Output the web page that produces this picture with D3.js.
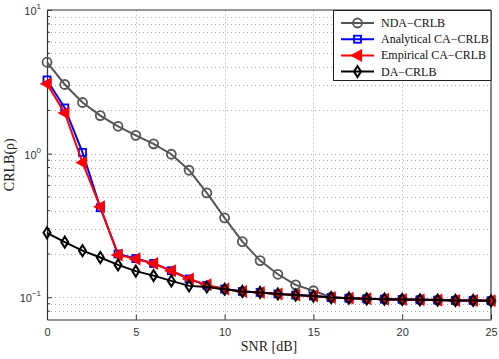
<!DOCTYPE html>
<html><head><meta charset="utf-8">
<script src="https://cdn.jsdelivr.net/npm/d3@7/dist/d3.min.js"></script>
<style>body{margin:0;background:#fff}svg{display:block}</style>
</head><body>
<script>
const snr = d3.range(0, 26);
const ndaCRLB = [4.33,3.03,2.27,1.84,1.55,1.34,1.17,0.99,0.766,0.533,0.357,0.244,0.18,0.1445,0.122,0.111,0.1,0.0985,0.0975,0.097,0.0965,0.096,0.0955,0.095,0.095,0.0945];
const analyticalCA = [3.26,2.08,1.02,0.42,0.2,0.186,0.172,0.153,0.134,0.121,0.114,0.1097,0.108,0.1055,0.1036,0.102,0.0995,0.0985,0.0975,0.097,0.0965,0.096,0.0955,0.095,0.095,0.0945];
const empiricalCA = [3.06,1.92,0.866,0.426,0.197,0.185,0.172,0.153,0.134,0.122,0.114,0.1097,0.108,0.1055,0.1036,0.102,0.0995,0.0985,0.0975,0.097,0.0965,0.096,0.0955,0.095,0.095,0.0945];
const daCRLB = [0.281,0.242,0.211,0.189,0.168,0.152,0.1415,0.13,0.12,0.118,0.1137,0.1097,0.108,0.1055,0.1036,0.102,0.0995,0.0985,0.0975,0.097,0.0965,0.096,0.0955,0.095,0.095,0.0945];
const seriesNames = ["NDA\u2212CRLB","Analytical CA\u2212CRLB","Empirical CA\u2212CRLB","DA\u2212CRLB"];
const xTicks = [0,5,10,15,20,25];
const yTicks = [0.1,1,10];
const yExps = ["\u22121","0","1"];

const W=499,H=359;
const m={l:47,r:8,t:10,b:40};
const svg=d3.select("body").append("svg").attr("width",W).attr("height",H);
const x=d3.scaleLinear().domain([0,25]).range([m.l,W-m.r]);
const y=d3.scaleLog().domain([0.07,10]).range([H-m.b+0.5,m.t]);

// grid
const g=svg.append("g");
const minor=[];
for(let e=-2;e<=0;e++) for(let k=1;k<=9;k++){const v=k*Math.pow(10,e); if(v>0.07&&v<10) minor.push(v);}
g.selectAll("line.gy").data(minor).enter().append("line")
 .attr("x1",x(0)).attr("x2",x(25)).attr("y1",d=>Math.round(y(d))+0.5).attr("y2",d=>Math.round(y(d))+0.5)
 .attr("stroke","#aaa").attr("stroke-width",1).attr("stroke-dasharray","1,3");
g.selectAll("line.gx").data(xTicks.slice(1,-1)).enter().append("line")
 .attr("y1",y(0.07)).attr("y2",y(10)).attr("x1",d=>Math.round(x(d))+0.5).attr("x2",d=>Math.round(x(d))+0.5)
 .attr("stroke","#aaa").attr("stroke-width",1).attr("stroke-dasharray","1,3");

// axes
const ax=svg.append("g").attr("transform",`translate(0,${y(0.07)})`).call(d3.axisBottom(x).tickValues(xTicks).tickSizeInner(-5).tickSizeOuter(0).tickPadding(9));
const ay=svg.append("g").attr("transform",`translate(${m.l},0)`).call(d3.axisLeft(y).tickValues(yTicks).tickSizeInner(-5).tickSizeOuter(0).tickFormat(()=>"").tickPadding(6));
[ax,ay].forEach(a=>{a.select(".domain").attr("stroke","#333").attr("stroke-width",1.2);a.selectAll(".tick line").attr("stroke","#333");a.selectAll("text").attr("font-family","Liberation Sans, Arial, sans-serif").attr("font-size",11).attr("fill","#333");});
// minor y ticks
svg.selectAll("line.my").data(minor.filter(v=>!yTicks.includes(v))).enter().append("line")
 .attr("x1",m.l).attr("x2",m.l+3).attr("y1",d=>y(d)).attr("y2",d=>y(d)).attr("stroke","#333");
// top/right border
svg.append("line").attr("x1",x(0)).attr("x2",x(25)).attr("y1",y(10)).attr("y2",y(10)).attr("stroke","#333").attr("stroke-width",1.2);
svg.append("line").attr("x1",x(25)).attr("x2",x(25)).attr("y1",y(10)).attr("y2",y(0.07)).attr("stroke","#333").attr("stroke-width",1.2);

// y tick labels with superscripts
yTicks.forEach((v,i)=>{
  const t=svg.append("text").attr("x",m.l-6).attr("y",y(v)+5).attr("text-anchor","end")
   .attr("font-family","Liberation Sans, Arial, sans-serif").attr("font-size",11).attr("fill","#333");
  t.append("tspan").text("10");
  t.append("tspan").attr("dy",-6).attr("font-size",8).text(yExps[i]);
});

svg.append("text").attr("x",x(12.5)).attr("y",351).attr("text-anchor","middle")
 .attr("font-family","Liberation Serif, Times New Roman, serif").attr("font-size",14).attr("fill","#222").text("SNR [dB]");
svg.append("text").attr("transform",`translate(14,${(y(10)+y(0.07))/2}) rotate(-90)`).attr("text-anchor","middle")
 .attr("font-family","Liberation Serif, Times New Roman, serif").attr("font-size",14).attr("fill","#222").text("CRLB(\u03c1)");

const colors=["#555555","#0000ff","#ff0000","#000000"];
const data=[ndaCRLB,analyticalCA,empiricalCA,daCRLB];
function marker(sel,i){
  if(i===0) sel.append("circle").attr("r",4.5).attr("fill","none").attr("stroke",colors[i]).attr("stroke-width",1.8);
  else if(i===1) sel.append("rect").attr("x",-3.5).attr("y",-3.5).attr("width",7).attr("height",7).attr("fill","none").attr("stroke",colors[i]).attr("stroke-width",1.8);
  else if(i===2) sel.append("path").attr("d","M-6,0L4,-5.5L4,5.5Z").attr("fill",colors[i]).attr("stroke",colors[i]).attr("stroke-width",1.2);
  else sel.append("path").attr("d","M0,-5.5L3.5,0L0,5.5L-3.5,0Z").attr("fill","none").attr("stroke",colors[i]).attr("stroke-width",2);
}
const line=d3.line().x((d,j)=>x(snr[j])).y(d=>y(d));
const plot=svg.append("g");
data.forEach((arr,i)=>{
  plot.append("path").datum(arr).attr("d",line).attr("fill","none").attr("stroke",colors[i]).attr("stroke-width",2);
  plot.selectAll(null).data(arr).enter().append("g").attr("transform",(d,j)=>`translate(${x(snr[j])},${y(d)})`).each(function(){marker(d3.select(this),i);});
});

// legend
const lg=svg.append("g");
lg.append("rect").attr("x",333.5).attr("y",10.5).attr("width",x(25)-333.5).attr("height",70).attr("fill","#fff").attr("stroke","#222").attr("stroke-width",1);
seriesNames.forEach((n,i)=>{
  const yy=23+i*16.2;
  lg.append("line").attr("x1",341).attr("x2",374).attr("y1",yy).attr("y2",yy).attr("stroke",colors[i]).attr("stroke-width",2);
  marker(lg.append("g").attr("transform",`translate(357.5,${yy})`),i);
  lg.append("text").attr("x",381).attr("y",yy+4).attr("font-family","Liberation Serif, Times New Roman, serif").attr("font-size",12).attr("fill","#111").text(n);
});
</script>
</body></html>
